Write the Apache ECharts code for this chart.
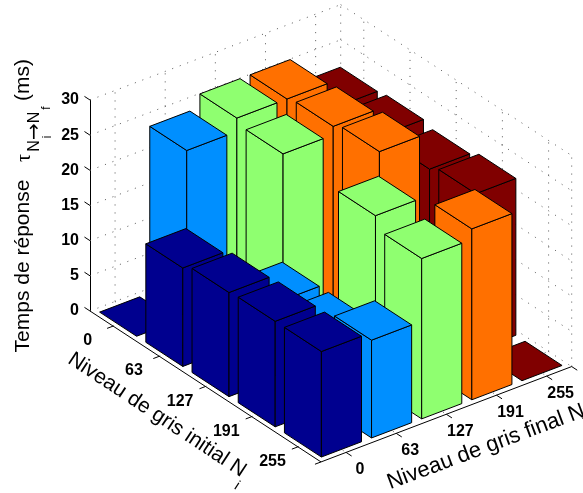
<!DOCTYPE html>
<html><head><meta charset="utf-8">
<style>html,body{margin:0;padding:0;background:#fff}#c{width:583px;height:493px}</style>
<script src="https://cdn.jsdelivr.net/npm/echarts@6/dist/echarts.min.js"></script>
</head><body><div id="c"></div>
<script>
const initialLevels = ['0','63','127','191','255'];
const finalLevels = ['0','63','127','191','255'];
const zTicks = [0,5,10,15,20,25,30];
// response time (ms), one list per final grey level, ordered by initial grey level
const nf0 = [0, 14, 14.8, 15, 15];
const nf63 = [23.7, 0, 10.8, 10.8, 13.9];
const nf127 = [25.6, 24.8, 0, 24.6, 22.8];
const nf191 = [25.6, 26, 26.7, 0, 24.3];
const nf255 = [21.8, 22.1, 21.5, 22.3, 0];
const colours = ['#00008F','#008FFF','#8FFF70','#FF7000','#800000'];

const FONT = '"Liberation Sans", Arial, sans-serif';
// oblique projection of (i, j, z) into the plane of the cartesian grid
const IX = 46.2, IY = 30.26, JX = 50.14, JY = 19.12, ZS = 7.05;
const proj = (i, j, z) => [
  (i + .5) * IX + (j + .5) * JX,
  z - ((i + .5) * IY - (j + .5) * JY) / ZS
];
const LO = -0.5, HI = 4.5, ZMAX = 30, W = 0.4;

function poly(api, pts, fill, z2) {
  return { type:'polygon', z2, shape:{ points: pts.map(p => api.coord(proj(p[0],p[1],p[2]))) },
    style:{ fill, stroke:'#000', lineWidth:1, lineJoin:'round' } };
}
function barSeries(name, values, j) {
  return {
    type:'custom', name, coordinateSystem:'cartesian2d', clip:false, silent:true, z:3,
    data: values.map((v,i) => [i, j, v]),
    renderItem(params, api) {
      const i = api.value(0), z = api.value(2), c = colours[j], o = i*5 + (4-j) + 10;
      const a0=i-W, a1=i+W, b0=j-W, b1=j+W;
      const ch = [];
      if (z > 0) {
        ch.push(poly(api, [[a0,b0,0],[a1,b0,0],[a1,b0,z],[a0,b0,z]], c, o));
        ch.push(poly(api, [[a1,b0,0],[a1,b1,0],[a1,b1,z],[a1,b0,z]], c, o));
      }
      ch.push(poly(api, [[a0,b0,z],[a1,b0,z],[a1,b1,z],[a0,b1,z]], c, o));
      return { type:'group', children: ch };
    }
  };
}
function line(api, a, b, dotted) {
  const p = api.coord(proj(a[0],a[1],a[2])), q = api.coord(proj(b[0],b[1],b[2]));
  return { type:'line', shape:{x1:p[0],y1:p[1],x2:q[0],y2:q[1]},
    style: dotted ? {stroke:'#555',lineWidth:1,lineDash:[1,7]} : {stroke:'#000',lineWidth:1} };
}
const idx = initialLevels.map((_,k)=>k);
const wallSeries = {
  type:'custom', name:'grille', coordinateSystem:'cartesian2d', clip:false, silent:true, z:1,
  data:[[0,0]],
  renderItem(params, api) {
    const ch = [];
    zTicks.forEach(z => {
      ch.push(line(api,[LO,LO,z],[LO,HI,z],true));
      ch.push(line(api,[LO,HI,z],[HI,HI,z],true));
    });
    idx.forEach(k => {
      ch.push(line(api,[LO,k,0],[LO,k,ZMAX],true));
      ch.push(line(api,[k,HI,0],[k,HI,ZMAX],true));
      ch.push(line(api,[LO,k,0],[HI,k,0],true));
      ch.push(line(api,[k,LO,0],[k,HI,0],true));
    });
    ch.push(line(api,[LO,HI,0],[LO,HI,ZMAX],true));
    ch.push(line(api,[HI,HI,0],[HI,HI,ZMAX],true));
    return { type:'group', children: ch };
  }
};
const T = 0.12;
const frameSeries = {
  type:'custom', name:'axes', coordinateSystem:'cartesian2d', clip:false, silent:true, z:2,
  data:[[0,0]],
  renderItem(params, api) {
    const ch = [ line(api,[LO,LO,0],[HI,LO,0]), line(api,[HI,LO,0],[HI,HI,0]) ];
    zTicks.forEach(z => ch.push(line(api,[LO,LO,z],[LO-T,LO,z])));
    [...idx, HI].forEach(k => ch.push(line(api,[k,LO,0],[k,LO-T,0])));
    [...idx, HI].forEach(k => ch.push(line(api,[HI,k,0],[HI+T,k,0])));
    const txt = (pt, dx, dy, s) => ({ type:'text', x:pt[0]+dx, y:pt[1]+dy,
      style:{ text:s, font:'bold 16px '+FONT, fill:'#000', align:'center', verticalAlign:'middle' } });
    initialLevels.forEach((s,k) => ch.push(txt(api.coord(proj(k,LO,0)), -25.4, 14.8, s)));
    finalLevels.forEach((s,k) => ch.push(txt(api.coord(proj(HI,k,0)), 14, 17, s)));
    return { type:'group', children: ch };
  }
};
const t = (text,x,y,deg,size,family) => ({ type:'text', x, y, rotation:deg*Math.PI/180, z:10,
  style:{ text, font:size+'px '+(family||FONT), fill:'#000', align:'center', verticalAlign:'middle' } });
const chart = echarts.init(document.getElementById('c'), null, {renderer:'canvas'});
chart.setOption({
  animation:false, backgroundColor:'#fff',
  grid:{ left:90, top:100, width:493, height:211, containLabel:false },
  xAxis:{ type:'value', min:0, max:493, show:false },
  yAxis:{ type:'value', min:0, max:ZMAX, interval:5,
    axisLine:{ show:true, lineStyle:{ color:'#000', width:1 } },
    axisTick:{ show:false }, splitLine:{ show:false },
    axisLabel:{ show:true, margin:11, color:'#000', fontFamily:'Liberation Sans', fontWeight:'bold', fontSize:16, padding:[0,0,8,0] } },
  series:[ wallSeries, frameSeries,
    barSeries('Nf 0', nf0, 0), barSeries('Nf 63', nf63, 1), barSeries('Nf 127', nf127, 2),
    barSeries('Nf 191', nf191, 3), barSeries('Nf 255', nf255, 4) ],
  graphic:[
    t('Temps de réponse',23,266,90,21),
    t('τ',25,158,90,20,'"Liberation Serif"'),
    t('N',35,146,90,16), t('→',35,131.5,90,20,'"DejaVu Sans"'), t('N',35,117.5,90,16),
    t('i',48,137,90,12), t('f',47,108,90,12),
    t('(ms)',23,80,90,21),
    t('Niveau de gris initial N',157,415,-33.5,21),
    t('i',237,486,-33.5,14),
    t('Niveau de gris final N',486,447,20.5,22),
    t('f',585,421,20.5,14)
  ]
});
</script></body></html>
